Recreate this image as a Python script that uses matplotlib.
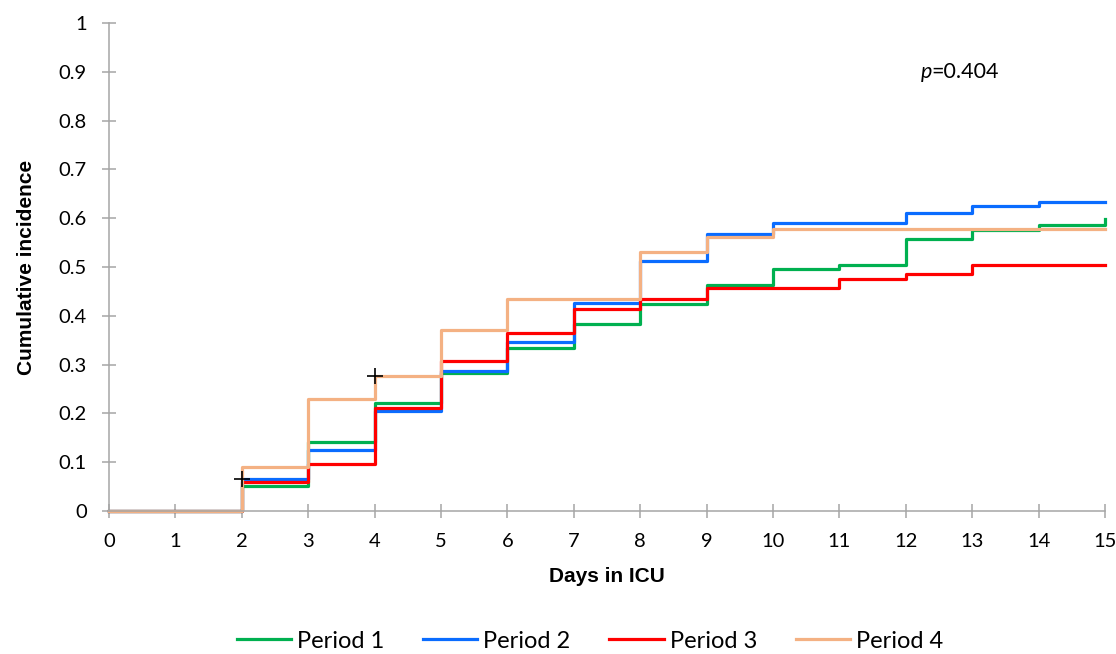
import matplotlib
matplotlib.use("Agg")
import matplotlib.pyplot as plt

plt.rcParams['font.family'] = ['Lato', 'DejaVu Sans']

days = list(range(0, 16))
period1 = [0, 0, 0.052, 0.141, 0.222, 0.283, 0.334, 0.383, 0.425, 0.464, 0.495, 0.505, 0.557, 0.575, 0.587, 0.598]
period2 = [0, 0, 0.066, 0.125, 0.205, 0.286, 0.346, 0.426, 0.513, 0.567, 0.590, 0.590, 0.611, 0.625, 0.633, 0.633]
period3 = [0, 0, 0.059, 0.097, 0.211, 0.307, 0.365, 0.414, 0.435, 0.457, 0.457, 0.475, 0.486, 0.504, 0.504, 0.504]
period4 = [0, 0, 0.091, 0.230, 0.277, 0.370, 0.435, 0.435, 0.530, 0.562, 0.578, 0.578, 0.578, 0.578, 0.578, 0.578]
labels = ["Period 1", "Period 2", "Period 3", "Period 4"]
colors = ["#00B050", "#0A6CFF", "#FF0000", "#F4B183"]
censor_x = [2, 4]
censor_y = [0.066, 0.277]
p_text = "=0.404"
y_ticks = [0, 0.1, 0.2, 0.3, 0.4, 0.5, 0.6, 0.7, 0.8, 0.9, 1]
y_ticklabels = ["0", "0.1", "0.2", "0.3", "0.4", "0.5", "0.6", "0.7", "0.8", "0.9", "1"]

fig = plt.figure(figsize=(11.16, 6.54), dpi=100)
ax = fig.add_axes([109/1116, 1-511/654, (1105-109)/1116, (511-23)/654])

for ys, lab, c in zip([period1, period2, period3, period4], labels, colors):
    ax.plot(days, ys, drawstyle='steps-post', color=c, lw=2.3, label=lab, clip_on=False)

ax.plot(censor_x, censor_y, linestyle='none', marker='+', color='black', markersize=11, mew=1.2, zorder=5)

ax.set_xlim(0, 15)
ax.set_ylim(0, 1)
ax.set_xticks(days)
ax.set_yticks(y_ticks)
ax.set_yticklabels(y_ticklabels)
for s in ['top', 'right']:
    ax.spines[s].set_visible(False)
for s in ['left', 'bottom']:
    ax.spines[s].set_color('#A6A6A6')
    ax.spines[s].set_linewidth(1.1)
ax.tick_params(axis='both', direction='inout', length=10, width=1.1, color='#A6A6A6',
               labelsize=14.5, labelcolor='black', pad=11)

ax.set_xlabel("Days in ICU", fontsize=15, fontweight='bold', family='Liberation Sans', labelpad=12)
ax.set_ylabel("Cumulative incidence", fontsize=15, fontweight='bold', family='Liberation Sans', labelpad=16)

ax.text(12.22, 0.90, "p", fontsize=15.5, style='italic', va='center', ha='left')
ax.text(12.38, 0.90, p_text, fontsize=15.5, va='center', ha='left')

fig.legend(loc='center', bbox_to_anchor=(590/1116, 1-641/654), ncol=4, frameon=False,
           fontsize=17, handlelength=2.3, handletextpad=0.25, columnspacing=1.65)

fig.savefig("out.png", dpi=100)
